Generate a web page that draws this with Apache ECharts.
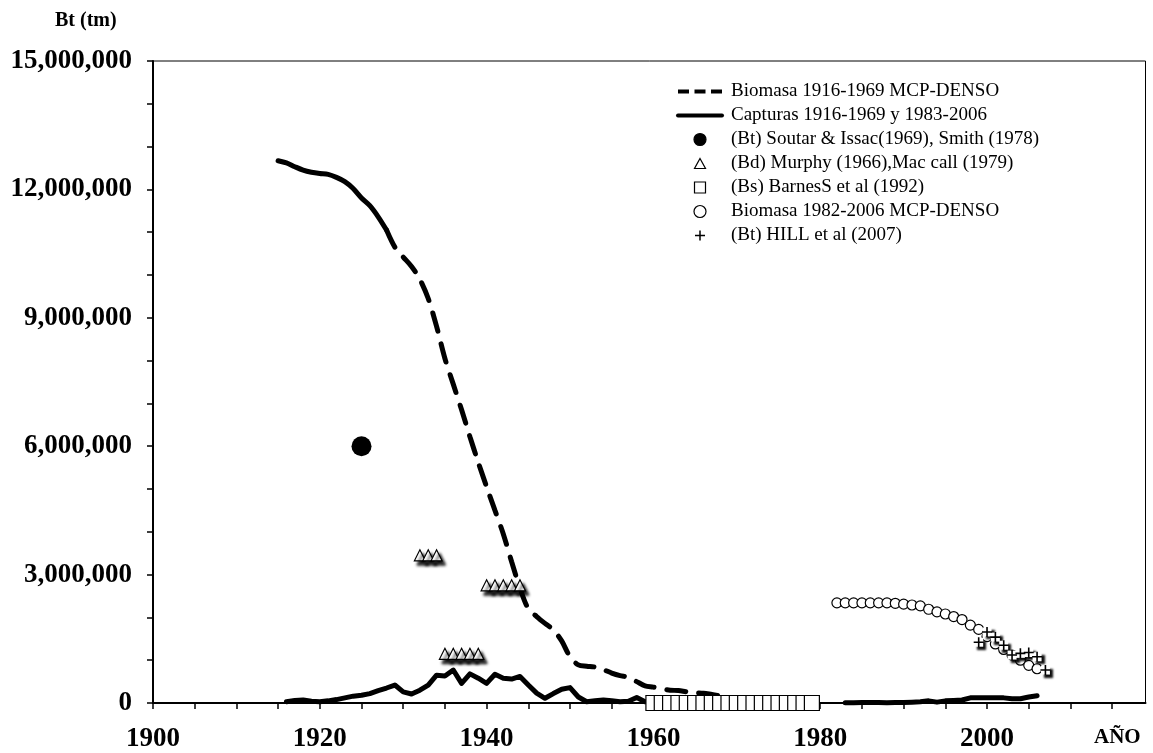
<!DOCTYPE html>
<html>
<head>
<meta charset="utf-8">
<script src="https://cdn.jsdelivr.net/npm/echarts@6/dist/echarts.min.js"></script>
<style>
  html, body { margin: 0; padding: 0; background: #fff; }
  #chart { width: 1153px; height: 753px; }
</style>
</head>
<body>
<div id="chart"></div>
<script>
// Biomass estimate (MCP-DENSO), yearly from 1915 to 1969, tonnes
const biomassStart = 1915;
const biomassEarly = [
  12670000, 12620000, 12530000, 12450000, 12400000, 12370000, 12350000, 12280000, 12180000, 12020000,
  11800000, 11620000, 11360000, 11050000, 10650000, 10420000, 10200000, 9900000, 9450000, 8800000,
  8050000, 7450000, 6850000, 6220000, 5620000, 5050000, 4500000, 3950000, 3300000, 2680000,
  2200000, 2020000, 1860000, 1710000, 1450000, 1080000, 890000, 860000, 840000, 780000,
  700000, 640000, 600000, 500000, 400000, 370000, 330000, 300000, 290000, 260000,
  240000, 230000, 200000, 170000, 150000
];
const biomassSolidUntil = 1928;

// Catches, 1916-1969 and 1983-2006
const catchEarlyStart = 1916;
const catchEarly = [
  30000, 60000, 70000, 40000, 30000, 50000, 80000, 120000, 160000, 180000,
  220000, 290000, 350000, 420000, 260000, 210000, 300000, 420000, 650000, 630000,
  770000, 460000, 680000, 580000, 460000, 670000, 580000, 560000, 620000, 420000,
  230000, 110000, 220000, 320000, 360000, 140000, 30000, 50000, 70000, 50000,
  30000, 40000, 130000, 30000, 20000, 30000, 40000, 30000, 30000, 40000,
  30000, 30000, 40000, 30000
];
const catchLateStart = 1983;
const catchLate = [
  5000, 5000, 10000, 10000, 10000, 5000, 10000, 10000, 20000, 30000,
  50000, 20000, 50000, 60000, 70000, 120000, 120000, 120000, 120000, 120000,
  100000, 100000, 140000, 170000
];

// (Bt) Soutar & Issac (1969), Smith (1978)
const soutarYears = [1925];
const soutarValues = [6000000];

// (Bd) Murphy (1966), Mac call (1979)
const murphyYears = [1932, 1933, 1934, 1935, 1936, 1937, 1938, 1939, 1940, 1941, 1942, 1943, 1944];
const murphyValues = [3450000, 3450000, 3450000, 1150000, 1150000, 1150000, 1150000, 1150000,
                      2750000, 2750000, 2750000, 2750000, 2750000];

// (Bs) Barnes et al (1992)
const barnesYears = [1960, 1961, 1962, 1963, 1964, 1965, 1966, 1967, 1968, 1969,
                     1970, 1971, 1972, 1973, 1974, 1975, 1976, 1977, 1978, 1979];
const barnesValues = [0, 0, 0, 0, 0, 0, 0, 0, 0, 0, 0, 0, 0, 0, 0, 0, 0, 0, 0, 0];

// Biomass 1982-2006 MCP-DENSO
const biomassLateYears = [1982, 1983, 1984, 1985, 1986, 1987, 1988, 1989, 1990, 1991, 1992, 1993,
                          1994, 1995, 1996, 1997, 1998, 1999, 2000, 2001, 2002, 2003, 2004, 2005, 2006];
const biomassLateValues = [2340000, 2340000, 2340000, 2340000, 2340000, 2340000, 2340000, 2330000,
                           2310000, 2290000, 2270000, 2190000, 2130000, 2080000, 2020000, 1950000,
                           1820000, 1720000, 1550000, 1380000, 1250000, 1120000, 1000000, 880000, 800000];

// (Bt) HILL et al (2007)
const hillYears = [1999, 2000, 2001, 2002, 2003, 2004, 2005, 2006, 2007];
const hillValues = [1420000, 1660000, 1540000, 1350000, 1120000, 1160000, 1180000, 1080000, 770000];

// Axis ranges and labels
const xMin = 1900, xMax = 2019, xTickStep = 5, xLabelStep = 20;
const yMax = 15000000, yTickStep = 1000000, yLabelStep = 3000000;

const names = {
  biomass: 'Biomasa 1916-1969 MCP-DENSO',
  catches: 'Capturas 1916-1969 y 1983-2006',
  soutar: '(Bt) Soutar & Issac(1969), Smith (1978)',
  murphy: '(Bd) Murphy (1966),Mac call (1979)',
  barnes: '(Bs) BarnesS et al (1992)',
  biomassLate: 'Biomasa 1982-2006 MCP-DENSO',
  hill: '(Bt) HILL et al (2007)',
  hillBox: 'HILL box'
};

const pairs = (xs, ys) => xs.map((x, i) => [x, ys[i]]);
const fromStart = (start, ys) => ys.map((v, i) => [start + i, v]);

const biomassAll = fromStart(biomassStart, biomassEarly);
const biomassSolid = biomassAll.filter(p => p[0] <= biomassSolidUntil);
const biomassDashed = biomassAll.filter(p => p[0] >= biomassSolidUntil);

const catchData = fromStart(catchEarlyStart, catchEarly)
  .concat([[1976, '-']])
  .concat(fromStart(catchLateStart, catchLate));

const serif = '"Liberation Serif", "Times New Roman", serif';
const plusPath = 'path://M5,0V10M0,5H10';
const noSymbol = { opacity: 0, color: 'transparent', borderColor: 'transparent' };

// Legend icons drawn inside the full 44x12 icon box so they keep their own proportions
const legendTriangle = 'path://M0,0M44,12M22,1L27.5,11L16.5,11Z';
const legendSquare = 'path://M0,0M44,12M16.5,0.5H27.5V11.5H16.5Z';
const legendPlus = 'path://M0,0M44,12M22,1V11M17,6H27';

const chart = echarts.init(document.getElementById('chart'));
chart.setOption({
  animation: false,
  backgroundColor: '#fff',
  textStyle: { fontFamily: serif, color: '#000' },
  title: [
    { text: 'Bt (tm)', left: 55, top: 11, padding: 0,
      textStyle: { fontFamily: serif, fontWeight: 'bold', fontSize: 20, color: '#000' } },
    { text: 'AÑO', left: 1094, top: 727, padding: 0,
      textStyle: { fontFamily: serif, fontWeight: 'bold', fontSize: 21, color: '#000' } }
  ],
  grid: {
    left: 153, right: 7.5, top: 61, bottom: 50,
    show: true, borderColor: '#000', borderWidth: 1, backgroundColor: 'transparent'
  },
  legend: {
    orient: 'vertical',
    left: 676, top: 82, padding: 0,
    itemWidth: 44, itemHeight: 12, itemGap: 5,
    selectedMode: false,
    textStyle: { fontFamily: serif, fontSize: 19, color: '#000', lineHeight: 19, padding: [0, 0, 0, 4] },
    itemStyle: { borderWidth: 1.2 },
    data: [
      { name: names.biomass, itemStyle: noSymbol,
        lineStyle: { type: [11, 5.5], width: 4, cap: 'butt', color: '#000' } },
      { name: names.catches, itemStyle: noSymbol, lineStyle: { width: 4, color: '#000' } },
      { name: names.soutar, icon: 'circle' },
      { name: names.murphy, icon: legendTriangle },
      { name: names.barnes, icon: legendSquare },
      { name: names.biomassLate, icon: 'circle' },
      { name: names.hill, icon: legendPlus, itemStyle: { borderWidth: 1.5 } }
    ]
  },
  xAxis: {
    type: 'value', min: xMin, max: xMax, interval: xTickStep,
    axisLine: { show: true, onZero: false, lineStyle: { color: '#000', width: 2 } },
    axisTick: { show: true, inside: false, length: 6, lineStyle: { color: '#000', width: 1.5 } },
    splitLine: { show: false },
    axisLabel: {
      margin: 23, fontFamily: serif, fontWeight: 'bold', fontSize: 27, color: '#000',
      showMaxLabel: false,
      formatter: v => (v % xLabelStep === 0 ? String(v) : '')
    }
  },
  yAxis: {
    type: 'value', min: 0, max: yMax, interval: yTickStep,
    axisLine: { show: true, lineStyle: { color: '#000', width: 2 } },
    axisTick: { show: true, inside: false, length: 6, lineStyle: { color: '#000', width: 1.5 } },
    splitLine: { show: false },
    axisLabel: {
      margin: 21, fontFamily: serif, fontWeight: 'bold', fontSize: 27, color: '#000',
      formatter: v => (v % yLabelStep === 0 ? v.toLocaleString('en-US') : '')
    }
  },
  series: [
    {
      name: names.biomass, type: 'line', data: biomassSolid, z: 2,
      symbol: 'none', smooth: 0.3, clip: false, color: '#000',
      lineStyle: { color: '#000', width: 5, cap: 'round' }
    },
    {
      name: names.biomass, type: 'line', data: biomassDashed, z: 2,
      symbol: 'none', smooth: 0.3, clip: false, color: '#000',
      lineStyle: { color: '#000', width: 5, type: [19, 13], cap: 'round' }
    },
    {
      name: names.catches, type: 'line', data: catchData, z: 2,
      symbol: 'none', connectNulls: false, clip: false, color: '#000',
      lineStyle: { color: '#000', width: 5, join: 'round', cap: 'round' }
    },
    {
      name: names.soutar, type: 'scatter', data: pairs(soutarYears, soutarValues), z: 3,
      symbol: 'circle', symbolSize: 20, clip: false,
      itemStyle: { color: '#000', borderColor: '#000', borderWidth: 0, opacity: 1 }
    },
    {
      name: names.murphy, type: 'scatter', data: pairs(murphyYears, murphyValues), z: 3,
      symbol: 'triangle', symbolSize: 11, clip: false,
      itemStyle: {
        color: '#fff', borderColor: '#000', borderWidth: 1.2, opacity: 1,
        shadowColor: 'rgba(0,0,0,0.95)', shadowBlur: 3, shadowOffsetX: 3, shadowOffsetY: 4
      }
    },
    {
      name: names.barnes, type: 'scatter', data: pairs(barnesYears, barnesValues), z: 3,
      symbol: 'rect', symbolSize: 15, clip: false,
      itemStyle: { color: '#fff', borderColor: '#000', borderWidth: 1.2, opacity: 1 }
    },
    {
      name: names.biomassLate, type: 'scatter', data: pairs(biomassLateYears, biomassLateValues), z: 3,
      symbol: 'circle', symbolSize: 10, clip: false,
      itemStyle: { color: '#fff', borderColor: '#000', borderWidth: 1.2, opacity: 1 }
    },
    {
      // white marker boxes with a drop shadow behind each HILL cross
      name: names.hillBox, type: 'scatter', data: pairs(hillYears, hillValues), z: 3,
      symbol: 'rect', symbolSize: 9, clip: false, silent: true,
      itemStyle: {
        color: '#fff', borderWidth: 0, opacity: 1,
        shadowColor: 'rgba(0,0,0,0.95)', shadowBlur: 2, shadowOffsetX: 3, shadowOffsetY: 3
      }
    },
    {
      name: names.hill, type: 'scatter', data: pairs(hillYears, hillValues), z: 3,
      symbol: plusPath, symbolSize: 10, symbolKeepAspect: true, clip: false,
      itemStyle: { color: 'transparent', borderColor: '#000', borderWidth: 1.6, opacity: 1 }
    }
  ]
});
</script>
</body>
</html>
